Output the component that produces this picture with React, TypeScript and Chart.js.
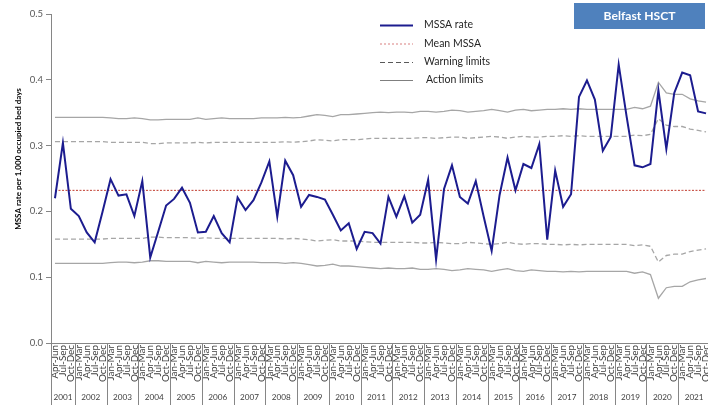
import React, { useEffect, useRef } from 'react';
import { Chart, registerables } from 'chart.js';

Chart.register(...registerables);

const years = [2001, 2002, 2003, 2004, 2005, 2006, 2007, 2008, 2009, 2010, 2011, 2012, 2013, 2014, 2015, 2016, 2017, 2018, 2019, 2020, 2021];
const quarterNames = ['Jan-Mar', 'Apr-Jun', 'Jul-Sep', 'Oct-Dec'];
const firstQuarterOfFirstYear = 1; // series starts at Apr-Jun 2001

const mssaRate = [
  0.220, 0.304, 0.204,
  0.193, 0.168, 0.153, 0.200,
  0.249, 0.224, 0.226, 0.193,
  0.246, 0.130, 0.169, 0.209,
  0.219, 0.236, 0.213, 0.168,
  0.169, 0.193, 0.167, 0.153,
  0.221, 0.202, 0.217, 0.244,
  0.276, 0.192, 0.277, 0.255,
  0.207, 0.225, 0.222, 0.218,
  0.195, 0.171, 0.182, 0.143,
  0.169, 0.167, 0.151, 0.222,
  0.192, 0.223, 0.183, 0.195,
  0.248, 0.127, 0.234, 0.270,
  0.222, 0.212, 0.246, 0.192,
  0.140, 0.225, 0.282, 0.232,
  0.272, 0.266, 0.302, 0.157,
  0.262, 0.207, 0.226, 0.374,
  0.399, 0.370, 0.292, 0.313,
  0.423, 0.344, 0.270, 0.267,
  0.272, 0.384, 0.295, 0.380,
  0.411, 0.407, 0.352, 0.349,
];

const meanMssa = 0.232;

const actionUpper = [
  0.343, 0.343, 0.343, 0.343, 0.343, 0.343, 0.343, 0.342, 0.341, 0.341, 0.342, 0.341,
  0.339, 0.339, 0.340, 0.340, 0.340, 0.340, 0.342, 0.340, 0.341, 0.342, 0.341, 0.341,
  0.341, 0.341, 0.342, 0.342, 0.342, 0.343, 0.342, 0.343, 0.345, 0.347, 0.346, 0.344,
  0.347, 0.347, 0.348, 0.349, 0.350, 0.351, 0.350, 0.351, 0.351, 0.350, 0.352, 0.352,
  0.351, 0.352, 0.354, 0.353, 0.351, 0.352, 0.353, 0.355, 0.353, 0.351, 0.354, 0.355, 0.353, 0.354,
  0.355, 0.355, 0.356, 0.355, 0.356, 0.355, 0.355, 0.355, 0.355, 0.355, 0.355, 0.358, 0.356, 0.360,
  0.396, 0.380, 0.378, 0.378, 0.371, 0.368, 0.366,
];

const warningUpper = [
  0.306, 0.306, 0.306, 0.306, 0.306, 0.306, 0.306, 0.305, 0.305, 0.305, 0.305, 0.305,
  0.303, 0.303, 0.304, 0.304, 0.304, 0.304, 0.305, 0.304, 0.305, 0.305, 0.305, 0.305,
  0.305, 0.305, 0.305, 0.305, 0.305, 0.306, 0.305, 0.306, 0.307, 0.309, 0.308, 0.307,
  0.309, 0.309, 0.309, 0.310, 0.311, 0.311, 0.311, 0.311, 0.311, 0.311, 0.312, 0.312,
  0.311, 0.312, 0.313, 0.313, 0.311, 0.312, 0.313, 0.314, 0.313, 0.311, 0.313, 0.314, 0.313, 0.313,
  0.314, 0.314, 0.315, 0.314, 0.315, 0.314, 0.314, 0.314, 0.314, 0.314, 0.314, 0.316, 0.315, 0.317,
  0.341, 0.331, 0.329, 0.329, 0.325, 0.323, 0.321,
];

const warningLower = [
  0.158, 0.158, 0.158, 0.158, 0.158, 0.158, 0.158, 0.159, 0.159, 0.159, 0.159, 0.159,
  0.161, 0.161, 0.160, 0.160, 0.160, 0.160, 0.159, 0.160, 0.159, 0.159, 0.159, 0.159,
  0.159, 0.159, 0.159, 0.159, 0.159, 0.158, 0.159, 0.158, 0.157, 0.155, 0.156, 0.157,
  0.155, 0.155, 0.155, 0.154, 0.153, 0.153, 0.153, 0.153, 0.153, 0.153, 0.152, 0.152,
  0.153, 0.152, 0.151, 0.151, 0.153, 0.152, 0.151, 0.150, 0.151, 0.153, 0.151, 0.150, 0.151, 0.151,
  0.150, 0.150, 0.149, 0.150, 0.149, 0.150, 0.150, 0.150, 0.150, 0.150, 0.150, 0.148, 0.149, 0.147,
  0.123, 0.133, 0.135, 0.135, 0.139, 0.141, 0.143,
];

const actionLower = [
  0.121, 0.121, 0.121, 0.121, 0.121, 0.121, 0.121, 0.122, 0.123, 0.123, 0.122, 0.123,
  0.125, 0.125, 0.124, 0.124, 0.124, 0.124, 0.122, 0.124, 0.123, 0.122, 0.123, 0.123,
  0.123, 0.123, 0.122, 0.122, 0.122, 0.121, 0.122, 0.121, 0.119, 0.117, 0.118, 0.120,
  0.117, 0.117, 0.116, 0.115, 0.114, 0.113, 0.114, 0.113, 0.113, 0.114, 0.112, 0.112,
  0.113, 0.112, 0.110, 0.111, 0.113, 0.112, 0.111, 0.109, 0.111, 0.113, 0.110, 0.109, 0.111, 0.110,
  0.109, 0.109, 0.108, 0.109, 0.108, 0.109, 0.109, 0.109, 0.109, 0.109, 0.109, 0.106, 0.108, 0.104,
  0.068, 0.084, 0.086, 0.086, 0.093, 0.096, 0.098,
];

const legendItems = ['MSSA rate', 'Mean MSSA', 'Warning limits', 'Action limits'];
const titleText = 'Belfast HSCT';
const yAxisTitle = 'MSSA rate per 1,000 occupied bed days';

// Build category table
const categories: { label: string; year: number }[] = [];
years.forEach((y, yi) => {
  quarterNames.forEach((q, qi) => {
    if (yi === 0 && qi < firstQuarterOfFirstYear) return;
    categories.push({ label: q, year: y });
  });
});

const FONT = 'Lato, "Liberation Sans", Arial, sans-serif';
const NAVY = '#1c1c8f';
const MEAN_RED = '#c0392b';
const LIMIT_GREY = '#a6a6a6';
const AXIS_GREY = '#868686';
const TEXT = '#404040';

function fitSize(ctx: CanvasRenderingContext2D, text: string, weight: string, target: number) {
  ctx.font = `${weight} 20px ${FONT}`;
  const w = ctx.measureText(text).width;
  return (20 * target) / w;
}

const overlayPlugin = {
  id: 'overlay',
  afterDraw(chart: any) {
    const ctx: CanvasRenderingContext2D = chart.ctx;
    const xs = chart.scales.x;
    const area = chart.chartArea;
    const H = chart.height;
    const n = categories.length;
    const step = (area.right - area.left) / n;
    ctx.save();

    // year separators and labels
    ctx.strokeStyle = AXIS_GREY;
    ctx.lineWidth = 1;
    const yearSize = fitSize(ctx, '2001', '', 19);
    ctx.font = `${yearSize}px ${FONT}`;
    ctx.fillStyle = TEXT;
    ctx.textAlign = 'center';
    ctx.textBaseline = 'middle';
    let start = 0;
    years.forEach((yr) => {
      let count = 0;
      for (let i = start; i < n; i++) if (categories[i].year === yr) count++;
      const x0 = xs.getPixelForValue(start) - step / 2;
      const x1 = x0 + count * step;
      ctx.beginPath();
      ctx.moveTo(Math.round(x0) + 0.5, area.bottom);
      ctx.lineTo(Math.round(x0) + 0.5, H - 5);
      ctx.stroke();
      ctx.fillText(String(yr), (x0 + x1) / 2, 397);
      start += count;
    });

    // y axis title
    const ytSize = fitSize(ctx, yAxisTitle, 'bold', 142);
    ctx.font = `bold ${ytSize}px ${FONT}`;
    ctx.fillStyle = '#000';
    ctx.save();
    ctx.translate(18, 159);
    ctx.rotate(-Math.PI / 2);
    ctx.textAlign = 'center';
    ctx.textBaseline = 'middle';
    ctx.fillText(yAxisTitle, 0, 0);
    ctx.restore();

    // legend
    const lgSize = fitSize(ctx, legendItems[0], '', 49);
    ctx.font = `${lgSize}px ${FONT}`;
    ctx.textAlign = 'left';
    ctx.textBaseline = 'middle';
    const rows = [25, 43.5, 62, 80];
    const styles = [
      { color: NAVY, width: 2, dash: [] as number[] },
      { color: '#d98080', width: 1, dash: [2, 2] },
      { color: '#595959', width: 1, dash: [5, 3] },
      { color: '#7f7f7f', width: 1, dash: [] as number[] },
    ];
    legendItems.forEach((t, i) => {
      const s = styles[i];
      ctx.beginPath();
      ctx.strokeStyle = s.color;
      ctx.lineWidth = s.width;
      ctx.setLineDash(s.dash);
      ctx.moveTo(380, rows[i] + 0.5);
      ctx.lineTo(413, rows[i] + 0.5);
      ctx.stroke();
      ctx.setLineDash([]);
      ctx.fillStyle = '#262626';
      ctx.fillText(t, i === 3 ? 426 : 424, rows[i]);
    });

    // title box
    ctx.fillStyle = '#4f81bd';
    ctx.fillRect(574, 3, 131, 26);
    const tSize = fitSize(ctx, titleText, 'bold', 72);
    ctx.font = `bold ${tSize}px ${FONT}`;
    ctx.fillStyle = '#ffffff';
    ctx.textAlign = 'center';
    ctx.textBaseline = 'middle';
    ctx.fillText(titleText, 639.5, 16.5);

    ctx.restore();
  },
};

export default function App() {
  const ref = useRef<HTMLCanvasElement | null>(null);

  useEffect(() => {
    document.body.style.margin = '0';
    document.body.style.overflow = 'hidden';
    const canvas = ref.current;
    if (!canvas) return;

    const mctx = document.createElement('canvas').getContext('2d') as CanvasRenderingContext2D;
    const tickSize = fitSize(mctx, 'Oct-Dec', '', 37);

    const chart = new Chart(canvas, {
      type: 'line',
      data: {
        labels: categories.map((c) => c.label),
        datasets: [
          { label: 'MSSA rate', data: mssaRate, borderColor: NAVY, borderWidth: 2, pointRadius: 0, tension: 0, fill: false },
          { label: 'Mean MSSA', data: categories.map(() => meanMssa), borderColor: MEAN_RED, borderWidth: 1, borderDash: [2, 1.5], pointRadius: 0, fill: false },
          { label: 'Warning limits', data: warningUpper, borderColor: LIMIT_GREY, borderWidth: 1.3, borderDash: [5, 3], pointRadius: 0, fill: false },
          { label: 'Warning limits (lower)', data: warningLower, borderColor: LIMIT_GREY, borderWidth: 1.3, borderDash: [5, 3], pointRadius: 0, fill: false },
          { label: 'Action limits', data: actionUpper, borderColor: LIMIT_GREY, borderWidth: 1.3, pointRadius: 0, fill: false },
          { label: 'Action limits (lower)', data: actionLower, borderColor: LIMIT_GREY, borderWidth: 1.3, pointRadius: 0, fill: false },
        ],
      },
      options: {
        responsive: false,
        animation: false,
        layout: { padding: { top: 14, left: 0, right: 0, bottom: 0 } },
        plugins: { legend: { display: false }, tooltip: { enabled: false }, title: { display: false } },
        scales: {
          x: {
            type: 'category',
            offset: true,
            grid: { display: true, drawOnChartArea: false, drawTicks: false },
            border: { display: true, color: AXIS_GREY, width: 1 },
            ticks: {
              autoSkip: false,
              minRotation: 90,
              maxRotation: 90,
              padding: 2,
              color: TEXT,
              font: { family: FONT, size: tickSize },
            },
            afterFit: (s: any) => {
              s.height = 67;
              s.paddingLeft = 0;
              s.paddingRight = 0;
            },
          },
          y: {
            min: 0,
            max: 0.5,
            grid: { display: true, drawOnChartArea: false, drawTicks: true, tickLength: 5, color: AXIS_GREY },
            border: { display: true, color: AXIS_GREY, width: 1 },
            ticks: {
              stepSize: 0.1,
              padding: 3,
              color: '#595959',
              font: { family: FONT, size: 9.5 },
              callback: (v: any) => Number(v).toFixed(1),
            },
            afterFit: (s: any) => {
              s.width = 51;
              s.paddingTop = 0;
              s.paddingBottom = 0;
            },
          },
        },
      },
      plugins: [overlayPlugin],
    });
    return () => chart.destroy();
  }, []);

  return (
    <div style={{ width: 708, height: 410, overflow: 'hidden', position: 'relative', background: '#fff' }}>
      <canvas ref={ref} width={710} height={410} style={{ display: 'block', width: 710, height: 410 }} />
    </div>
  );
}
